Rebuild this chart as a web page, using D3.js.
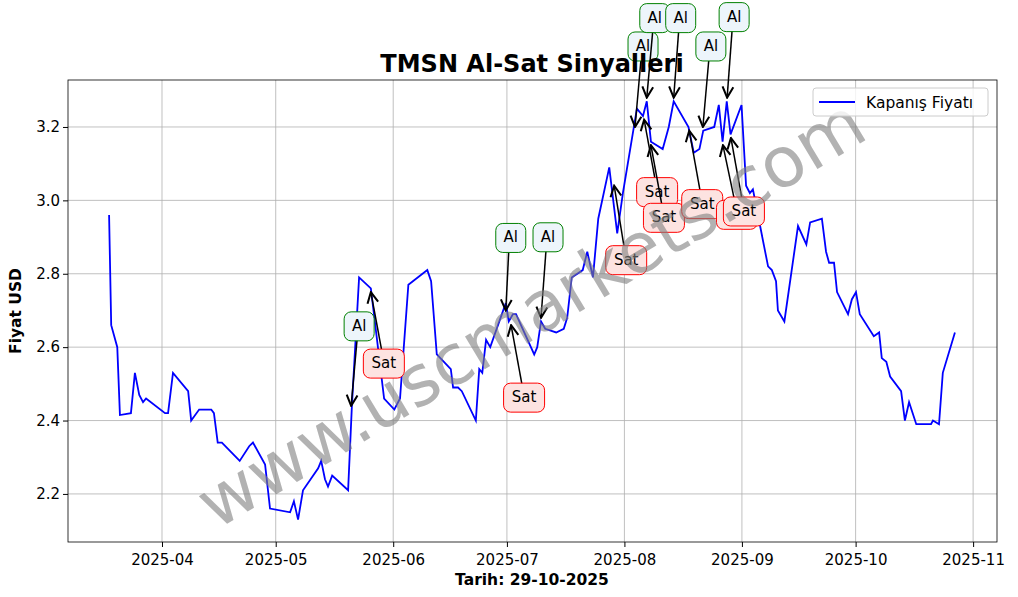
<!DOCTYPE html>
<html><head><meta charset="utf-8">
<script src="https://cdn.jsdelivr.net/npm/d3@7"></script>
<style>body{margin:0;background:#fff}svg{font-family:"DejaVu Sans",sans-serif}</style>
</head><body><svg id="c" width="1018" height="597"></svg>
<script>
// gün ofseti 2025-04-01'den itibaren
const days = [-13.96,-13.4,-11.8,-11.1,-8.2,-7.15,-6.0,-5.0,-4.2,0.8,1.6,2.9,6.9,7.7,9.8,13.0,13.7,14.7,15.8,20.5,23.0,24.0,27.2,28.5,33.8,34.8,35.9,37.2,41.2,42.0,43.0,43.8,44.9,49.1,50.1,52.0,55.1,58.6,61.3,62.8,65.0,70.0,71.0,72.5,76.2,76.8,78.1,79.1,82.8,83.7,84.5,85.5,86.6,90.7,91.5,92.6,93.4,98.2,99.0,100.0,101.1,104.0,106.0,106.9,108.1,111.0,112.2,113.7,115.1,118.0,120.1,121.6,125.3,126.9,127.9,129.0,132.1,133.7,135.0,138.9,140.3,141.8,142.8,145.7,146.9,147.9,149.0,150.0,152.9,154.1,155.1,155.9,159.9,160.9,162.0,162.5,164.2,167.8,170.0,171.0,174.1,175.2,176.0,177.3,178.1,181.0,182.0,183.1,184.1,187.8,189.2,189.9,191.1,192.1,195.0,196.0,197.1,199.0,202.9,203.4,205.0,206.0,209.2];
const prices = [2.96,2.66,2.60,2.415,2.42,2.53,2.47,2.45,2.46,2.42,2.42,2.53,2.48,2.40,2.43,2.43,2.42,2.34,2.34,2.29,2.33,2.34,2.28,2.16,2.15,2.18,2.13,2.21,2.27,2.29,2.24,2.22,2.25,2.21,2.44,2.79,2.76,2.46,2.43,2.46,2.77,2.81,2.78,2.58,2.54,2.49,2.49,2.48,2.40,2.54,2.53,2.62,2.60,2.72,2.67,2.69,2.69,2.58,2.60,2.67,2.65,2.64,2.65,2.68,2.79,2.81,2.86,2.79,2.95,3.09,2.91,3.02,3.25,3.23,3.27,3.16,3.14,3.20,3.27,3.20,3.13,3.14,3.19,3.20,3.26,3.16,3.27,3.18,3.26,3.04,3.02,3.03,2.82,2.81,2.78,2.70,2.67,2.93,2.88,2.94,2.95,2.86,2.83,2.83,2.75,2.69,2.73,2.75,2.69,2.63,2.64,2.57,2.56,2.52,2.48,2.40,2.45,2.39,2.39,2.40,2.39,2.53,2.64];
const alDays = [49.9,90.7,100.0,124.8,127.9,135.0,142.7,149.1];
const alVals = [2.44,2.70,2.68,3.20,3.28,3.28,3.20,3.28];
const alOff = [[8,-80],[5,-73],[7,-81],[8,-81],[8,-80],[7,-80],[8,-81],[7,-81]];
const satDays = [55.1,92.1,119.3,127.2,129.0,139.1,148.0,150.1];
const satVals = [2.75,2.66,3.04,3.22,3.15,3.19,3.15,3.17];
const satOff = [[13,71],[13,72],[12,74],[13,72],[13,72],[13,73],[14,69],[13,73]];
const yTicks = [2.2,2.4,2.6,2.8,3.0,3.2];

const base = new Date(2025,3,1);
const toDate = d => new Date(base.getTime() + d*864e5);
const svg = d3.select('#c');
const L = 68, R = 997, T = 80, B = 542;
const x = d3.scaleTime().domain([toDate(-24.8), toDate(220.3)]).range([L, R]);
const y = d3.scaleLinear().domain([2.069, 3.328]).range([B, T]);

const xt = d3.timeMonth.range(new Date(2025,3,1), new Date(2025,10,2));
svg.append('g').selectAll('line').data(xt).join('line')
  .attr('x1', d => x(d)).attr('x2', d => x(d)).attr('y1', T).attr('y2', B)
  .attr('stroke', '#b0b0b0').attr('stroke-width', 0.8);
svg.append('g').selectAll('line').data(yTicks).join('line')
  .attr('y1', d => y(d)).attr('y2', d => y(d)).attr('x1', L).attr('x2', R)
  .attr('stroke', '#b0b0b0').attr('stroke-width', 0.8);

const gx = svg.append('g').attr('transform', `translate(0,${B})`)
  .call(d3.axisBottom(x).tickValues(xt).tickFormat(d3.timeFormat('%Y-%m')).tickSizeOuter(0).tickSize(5));
const gy = svg.append('g').attr('transform', `translate(${L},0)`)
  .call(d3.axisLeft(y).tickValues(yTicks).tickFormat(d3.format('.1f')).tickSizeOuter(0).tickSize(5));
[gx, gy].forEach(g => { g.select('.domain').remove(); g.selectAll('text').attr('font-size', 15).attr('fill', '#000').attr('font-family', 'DejaVu Sans'); });
gx.selectAll('text').attr('dy', '1.0em');

svg.append('rect').attr('x', L).attr('y', T).attr('width', R - L).attr('height', B - T)
  .attr('fill', 'none').attr('stroke', '#000').attr('stroke-width', 0.8);

svg.append('path').datum(days.map((d, i) => [d, prices[i]]))
  .attr('d', d3.line().x(d => x(toDate(d[0]))).y(d => y(d[1])))
  .attr('fill', 'none').attr('stroke', 'blue').attr('stroke-width', 1.8);

svg.append('defs').append('marker').attr('id', 'ah').attr('viewBox', '0 0 10 10')
  .attr('refX', 9).attr('refY', 5).attr('markerWidth', 9).attr('markerHeight', 9)
  .attr('orient', 'auto').append('path').attr('d', 'M1,1 L9,5 L1,9')
  .attr('fill', 'none').attr('stroke', '#000').attr('stroke-width', 1.5);

function annotate(ds, vs, offs, label, fill, stroke, upward) {
  ds.forEach((d, i) => {
    const px = x(toDate(d)), py = y(vs[i]);
    const tx = px + offs[i][0], ty = py + offs[i][1];
    const sy = upward ? ty - 12 : ty + 13;
    svg.append('line').attr('x1', tx - 2).attr('y1', sy).attr('x2', px).attr('y2', py)
      .attr('stroke', '#000').attr('stroke-width', 1.5).attr('marker-end', 'url(#ah)');
    const w = label === 'Al' ? 30 : 41;
    svg.append('rect').attr('x', tx - w / 2).attr('y', ty - 14).attr('width', w).attr('height', 29)
      .attr('rx', 7).attr('fill', fill).attr('stroke', stroke).attr('stroke-width', 1);
    svg.append('text').attr('x', tx).attr('y', ty + 5).attr('text-anchor', 'middle')
      .attr('font-size', 15).text(label);
  });
}
annotate(alDays, alVals, alOff, 'Al', '#edf5fb', 'green', false);
annotate(satDays, satVals, satOff, 'Sat', '#fde3e1', 'red', true);

svg.append('text').attr('x', 532).attr('y', 337).attr('text-anchor', 'middle')
  .attr('transform', 'rotate(-31,532,315)').attr('font-size', 70).attr('fill', 'gray')
  .attr('opacity', 0.6).text('www.uscmarkets.com');

const lg = svg.append('g');
lg.append('rect').attr('x', 813).attr('y', 88).attr('width', 175).attr('height', 28).attr('rx', 3)
  .attr('fill', '#fff').attr('fill-opacity', 0.8).attr('stroke', '#ccc');
lg.append('line').attr('x1', 819).attr('x2', 855).attr('y1', 102).attr('y2', 102).attr('stroke', 'blue').attr('stroke-width', 1.8);
lg.append('text').attr('x', 866).attr('y', 108).attr('font-size', 15.5).text('Kapanış Fiyatı');

svg.append('text').attr('x', 532).attr('y', 72).attr('text-anchor', 'middle')
  .attr('font-size', 24).attr('font-weight', 'bold').text('TMSN Al-Sat Sinyalleri');
svg.append('text').attr('x', 532).attr('y', 585).attr('text-anchor', 'middle')
  .attr('font-size', 15.5).attr('font-weight', 'bold').text('Tarih: 29-10-2025');
svg.append('text').attr('transform', 'translate(21,311) rotate(-90)').attr('text-anchor', 'middle')
  .attr('font-size', 15.5).attr('font-weight', 'bold').text('Fiyat USD');
</script></body></html>
